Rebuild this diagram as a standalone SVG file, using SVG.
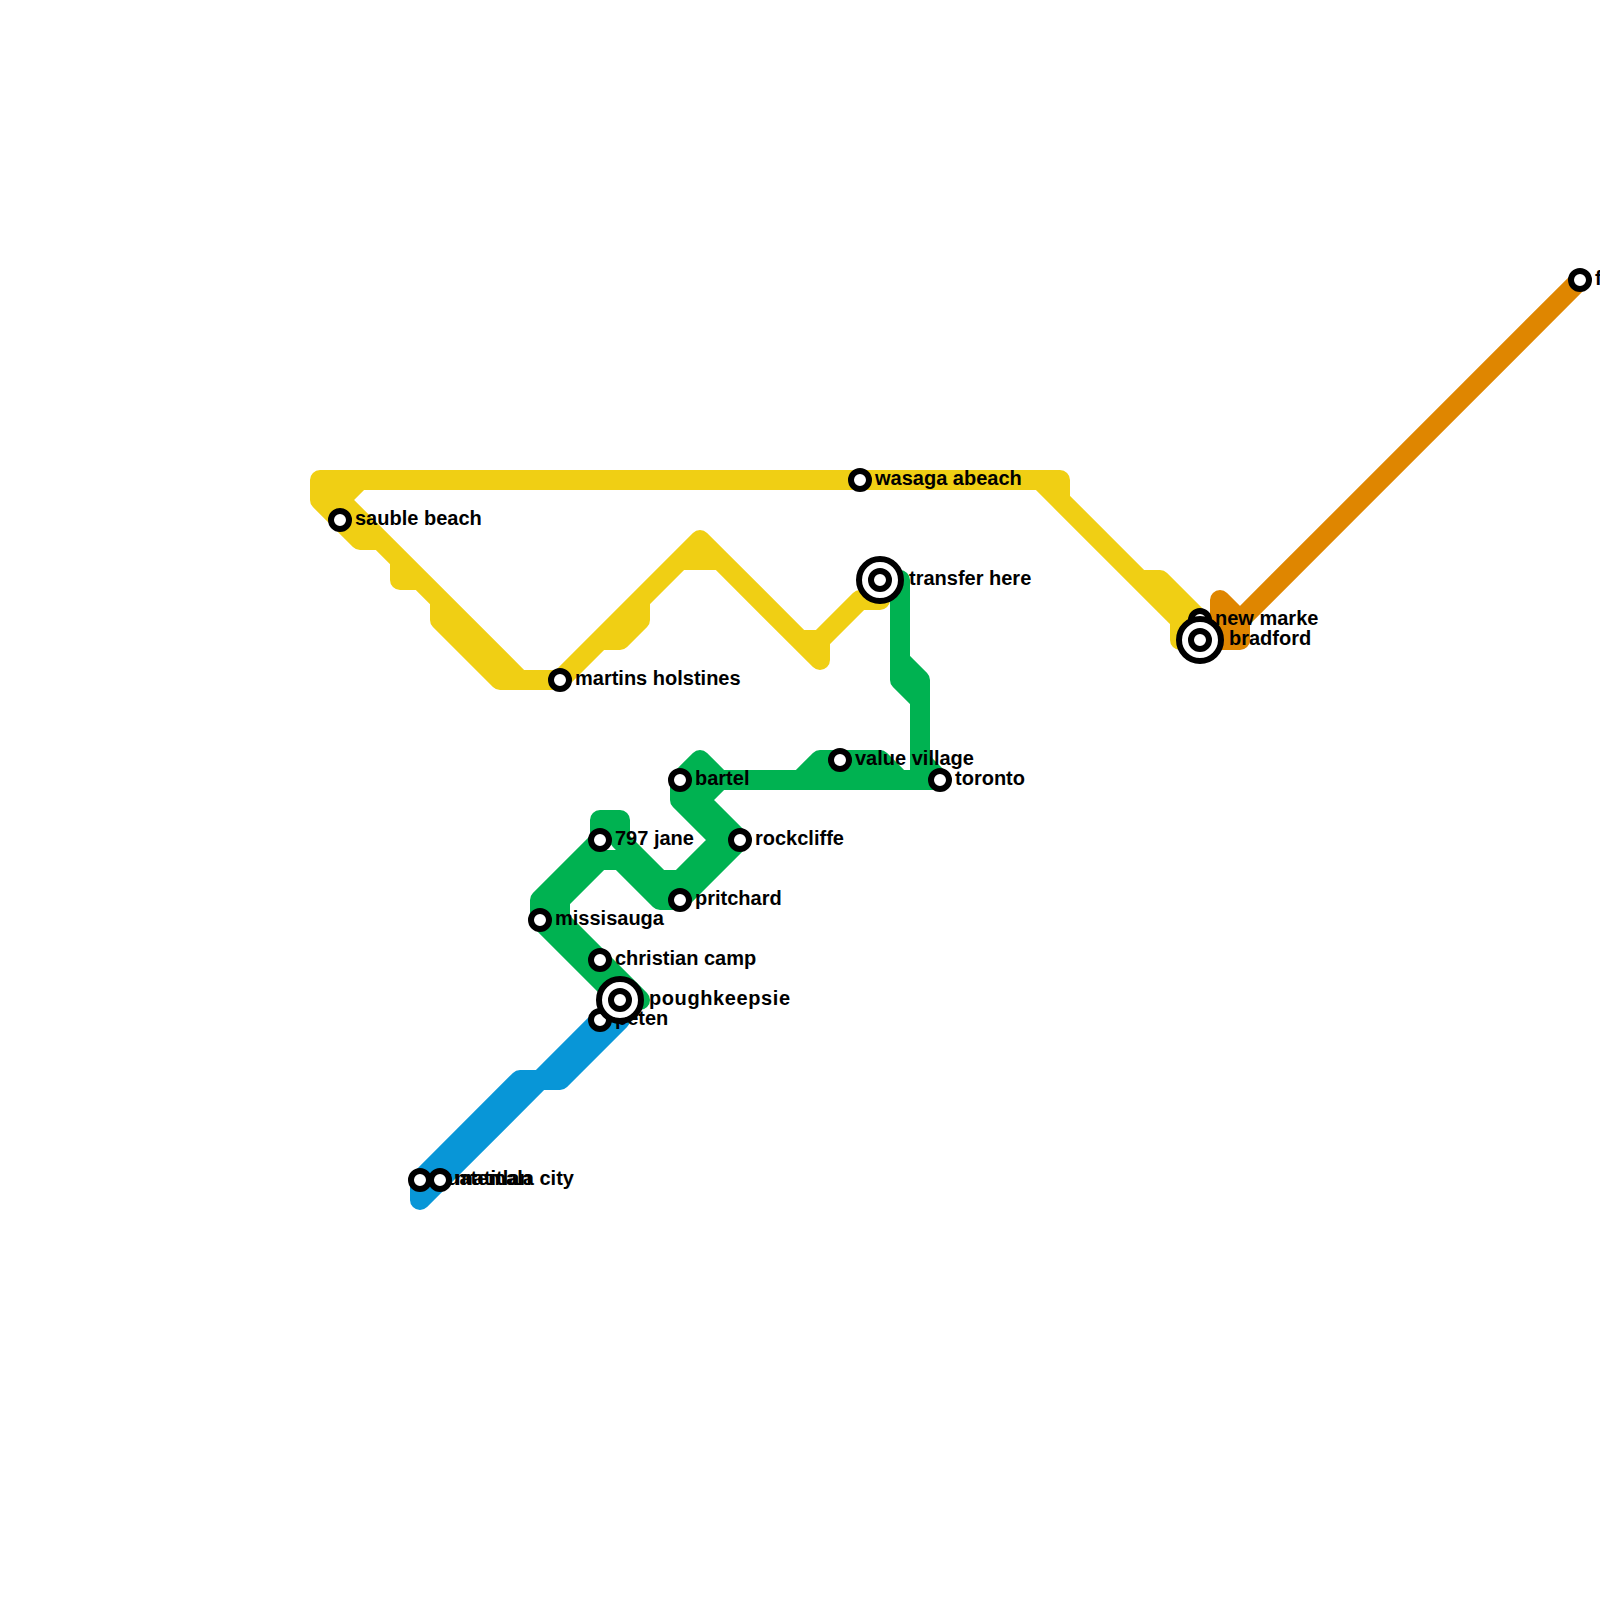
<svg xmlns="http://www.w3.org/2000/svg" width="1600" height="1600" viewBox="0 0 1600 1600">
<style>
.l{fill:none;stroke-width:20;stroke-linejoin:round;stroke-linecap:round}
.y{stroke:#f0cf14}.g{stroke:#00b251}.b{stroke:#0896d7}.o{stroke:#df8600}
.s{fill:#fff;stroke:#000;stroke-width:6}
.t{fill:#fff;stroke:#000;stroke-width:6}
text{font-family:"Liberation Sans",Arial,sans-serif;font-weight:bold;font-size:20px;fill:#000}
</style>
<rect width="1600" height="1600" fill="#fff"/>
<g id="connectors">
<path class="l b" d="M420 1200L540 1080M420 1180L420 1200M420 1180L520 1080L560 1080L620 1020M540 1080L600 1020"/>
<path class="l y" d="M320 480L1060 480L1060 500L1200 640L1180 640L1180 620M1040 480L1060 500M1140 580L1160 580L1200 620M320 480L320 500L360 540L380 540M320 500L340 500L360 480M320 480L520 680L560 680M400 560L400 580L420 580M440 600L440 620L500 680L520 680M560 680L700 540L820 660L820 640L860 600L880 600M800 640L820 640M600 640L620 640L640 620L640 600M680 560L720 560"/>
<path class="l o" d="M1580 280L1240 620L1240 640L1220 640L1220 600L1240 620"/>
<path class="l g" d="M900 580L900 680L920 700L920 780M900 660L920 680L920 700M920 760L940 780L720 780L700 760L680 780L680 800L720 840L680 880L660 880L620 840L620 820L600 820L600 840L540 900L540 920L620 1000L640 1000L560 920L560 900L600 860L620 860L660 900L680 900L740 840L700 800L720 780M800 780L820 760L880 760L900 780M680 780L720 780M680 800L700 800"/>
</g>
<g id="n-sauble"><circle class="s" cx="340" cy="520" r="9"/><text x="355" y="525">sauble beach</text></g>
<g id="n-martins"><circle class="s" cx="560" cy="680" r="9"/><text x="575" y="685">martins holstines</text></g>
<g id="n-wasaga"><circle class="s" cx="860" cy="480" r="9"/><text x="875" y="485">wasaga abeach</text></g>
<g id="n-transfer"><circle class="t" cx="880" cy="580" r="21"/><circle class="s" cx="880" cy="580" r="9"/><text x="909" y="585">transfer here</text></g>
<g id="n-newmarket"><circle class="s" cx="1200" cy="620" r="9"/><text x="1215" y="625">new marke</text></g>
<g id="n-bradford"><circle class="t" cx="1200" cy="640" r="21"/><circle class="s" cx="1200" cy="640" r="9"/><text x="1229" y="645">bradford</text></g>
<g id="n-f"><circle class="s" cx="1580" cy="280" r="9"/><text x="1595" y="285">f</text></g>
<g id="n-bartel"><circle class="s" cx="680" cy="780" r="9"/><text x="695" y="785">bartel</text></g>
<g id="n-valuevillage"><circle class="s" cx="840" cy="760" r="9"/><text x="855" y="765">value village</text></g>
<g id="n-toronto"><circle class="s" cx="940" cy="780" r="9"/><text x="955" y="785">toronto</text></g>
<g id="n-rockcliffe"><circle class="s" cx="740" cy="840" r="9"/><text x="755" y="845">rockcliffe</text></g>
<g id="n-797jane"><circle class="s" cx="600" cy="840" r="9"/><text x="615" y="845">797 jane</text></g>
<g id="n-pritchard"><circle class="s" cx="680" cy="900" r="9"/><text x="695" y="905">pritchard</text></g>
<g id="n-missisauga"><circle class="s" cx="540" cy="920" r="9"/><text x="555" y="925">missisauga</text></g>
<g id="n-christian"><circle class="s" cx="600" cy="960" r="9"/><text x="615" y="965">christian camp</text></g>
<g id="n-peten"><circle class="s" cx="600" cy="1020" r="9"/><text x="615" y="1025">peten</text></g>
<g id="n-poughkeepsie"><circle class="t" cx="620" cy="1000" r="21"/><circle class="s" cx="620" cy="1000" r="9"/><text x="649" y="1005" textLength="141">poughkeepsie</text></g>
<g id="n-guatemala"><circle class="s" cx="420" cy="1180" r="9"/><text x="435" y="1185">guatemala city</text></g>
<g id="n-matitlan"><circle class="s" cx="440" cy="1180" r="9"/><text x="455" y="1185">matitlan</text></g>
</svg>
